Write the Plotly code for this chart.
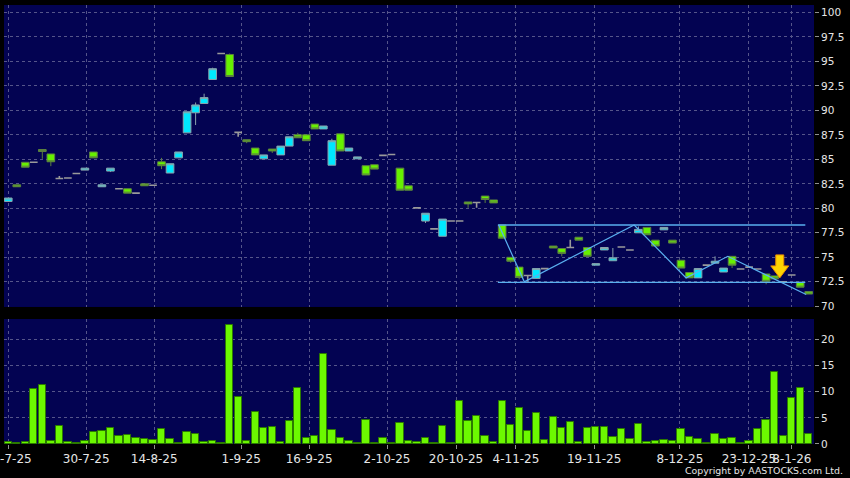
import plotly.graph_objects as go

# ---------------- data ----------------
date_labels = ["16-7-25", "30-7-25", "14-8-25", "1-9-25", "16-9-25", "2-10-25",
               "20-10-25", "4-11-25", "19-11-25", "8-12-25", "23-12-25", "8-1-26"]
date_tick_pos = [0, 9.15, 17.14, 27.35, 35.33, 44.48, 52.58, 59.62, 68.8, 78.87, 86.97, 92.02]

open_ = [80.70, 82.40, 84.70, 84.70, 86.00, 85.55, 83.05, 83.10, 83.55, 83.90,
         85.75, 82.20, 83.80, 82.00, 82.00, 81.55, 82.50, 82.35, 84.75, 83.60,
         85.15, 87.70, 89.75, 90.70, 93.15, 95.80, 95.70, 87.75, 87.00, 86.15,
         85.05, 86.05, 85.45, 86.35, 87.50, 87.50, 88.60, 88.10, 84.40, 87.60,
         85.85, 85.05, 84.35, 84.45, 85.40, 85.50, 84.10, 82.30, 80.05, 78.70,
         77.90, 77.15, 78.70, 78.70, 80.65, 80.60, 81.25, 80.85, 78.30, 75.00,
         74.00, 73.15, 72.85, 73.85, 76.15, 75.90, 76.00, 77.05, 76.00, 74.20,
         75.75, 74.65, 76.05, 75.75, 77.50, 78.05, 76.75, 77.80, 76.75, 74.70,
         73.45, 72.90, 74.20, 74.40, 73.50, 75.10, 73.80, 74.00, 73.80, 73.30,
         73.10, 72.50, 73.20, 72.45, 71.50]
high = [81.05, 82.40, 84.70, 84.70, 86.00, 85.55, 83.30, 83.10, 83.55, 84.10,
        85.75, 82.40, 84.10, 82.00, 82.00, 81.55, 82.50, 82.35, 85.15, 84.55,
        85.75, 89.85, 90.80, 91.70, 94.35, 95.80, 95.80, 87.75, 87.00, 86.15,
        85.45, 86.05, 86.35, 87.30, 87.70, 87.50, 88.60, 88.40, 87.10, 87.60,
        86.15, 85.25, 84.35, 84.45, 85.40, 85.50, 84.10, 82.30, 80.05, 79.50,
        77.90, 78.90, 78.70, 78.70, 80.65, 80.60, 81.25, 80.85, 78.30, 75.00,
        74.00, 73.15, 73.85, 73.85, 76.15, 75.90, 76.80, 77.05, 76.00, 74.35,
        76.00, 75.95, 76.05, 75.75, 78.15, 78.05, 76.75, 78.05, 76.75, 74.70,
        73.45, 73.85, 74.20, 75.10, 73.90, 75.10, 73.80, 74.00, 73.80, 73.30,
        73.10, 72.50, 73.20, 72.45, 71.50]
low = [80.70, 82.20, 84.20, 84.70, 85.05, 84.30, 83.05, 83.10, 83.55, 83.90,
       85.15, 82.20, 83.70, 82.00, 81.55, 81.55, 82.30, 82.35, 84.00, 83.60,
       85.15, 87.70, 88.50, 90.70, 93.15, 95.80, 93.45, 87.30, 86.65, 85.45,
       85.05, 85.65, 85.45, 86.35, 87.20, 86.90, 88.10, 88.10, 84.40, 85.85,
       85.85, 85.05, 83.40, 84.00, 85.40, 85.50, 81.85, 81.85, 80.05, 78.50,
       77.90, 77.15, 78.70, 78.70, 80.05, 80.05, 80.55, 80.55, 76.95, 74.45,
       72.75, 72.50, 72.85, 73.85, 75.95, 75.10, 76.00, 76.75, 75.10, 74.20,
       75.75, 74.65, 76.05, 75.75, 77.50, 77.30, 76.15, 77.80, 76.45, 73.90,
       72.90, 72.90, 74.20, 74.40, 73.50, 73.90, 73.80, 74.00, 73.80, 72.25,
       72.80, 72.50, 73.20, 71.95, 71.25]
close = [81.05, 82.20, 84.20, 84.70, 85.80, 84.75, 83.05, 83.10, 83.55, 84.10,
         85.15, 82.40, 84.10, 82.00, 81.55, 81.55, 82.30, 82.35, 84.35, 84.55,
         85.75, 89.85, 90.55, 91.30, 94.25, 95.80, 93.45, 87.75, 86.80, 85.45,
         85.45, 85.85, 86.35, 87.30, 87.20, 86.90, 88.10, 88.40, 86.90, 85.85,
         86.15, 85.25, 83.40, 84.00, 85.40, 85.50, 81.85, 81.85, 80.05, 79.50,
         77.90, 78.90, 78.70, 78.70, 80.45, 80.60, 80.90, 80.55, 76.95, 74.60,
         72.95, 73.15, 73.85, 73.85, 75.95, 75.40, 76.00, 76.75, 75.10, 74.35,
         76.00, 74.95, 76.05, 75.75, 77.85, 77.30, 76.15, 78.05, 76.45, 73.90,
         72.90, 73.85, 74.20, 74.60, 73.90, 74.20, 73.80, 74.00, 73.80, 72.55,
         72.80, 72.50, 73.20, 71.95, 71.25]
volume = [0.4, 0.1, 0.4, 10.6, 11.2, 0.6, 3.4, 0.4, 0.1, 0.6,
          2.2, 2.4, 3.1, 1.6, 1.8, 1.2, 1.0, 0.8, 2.8, 1.0,
          0.1, 2.2, 2.0, 0.4, 0.6, 0.1, 22.8, 9.0, 0.6, 6.2,
          3.1, 3.3, 0.3, 4.4, 10.8, 1.2, 1.6, 17.3, 2.6, 1.2,
          0.6, 0.1, 4.6, 0.1, 1.2, 0.1, 4.0, 0.6, 0.4, 1.2,
          0.1, 3.4, 0.1, 8.3, 4.4, 5.4, 1.6, 0.4, 8.3, 3.6,
          6.8, 2.4, 6.0, 0.8, 5.2, 3.0, 4.2, 0.4, 3.0, 3.2,
          3.3, 1.4, 2.9, 1.0, 3.8, 0.3, 0.6, 0.8, 0.6, 2.9,
          1.4, 1.0, 0.1, 2.0, 1.0, 1.2, 0.1, 0.6, 2.9, 4.6,
          13.7, 1.6, 8.7, 10.8, 2.0]

# user-drawn channel and zigzag (bar index, price)
channel_idx = [57.5, 93.6]
resistance = 78.3
support = 72.45
zigzag_idx = [57.6, 60.6, 73.5, 79.6, 84.5, 93.7]
zigzag_px = [78.3, 72.5, 78.3, 72.9, 75.1, 71.2]
signal_arrow = (90.6, 72.9)  # (bar index, price at tip)

# ---------------- figure ----------------
idx = list(range(len(close)))
up = [i for i in idx if close[i] > open_[i]]
dn = [i for i in idx if close[i] < open_[i]]
dj = [i for i in idx if close[i] == open_[i]]


def sub(arr, sel):
    return [arr[i] for i in sel]


fig = go.Figure()

CYAN = "#00e8ff"
GREEN = "#66f000"


def candle(sel, fill, line, width):
    return go.Candlestick(
        x=sel, open=sub(open_, sel), high=sub(high, sel), low=sub(low, sel), close=sub(close, sel),
        increasing=dict(fillcolor=fill, line=dict(color=line, width=width)),
        decreasing=dict(fillcolor=fill, line=dict(color=line, width=width)),
        whiskerwidth=0, xaxis="x", yaxis="y", showlegend=False, hoverinfo="skip")


fig.add_trace(candle(up, CYAN, "#8aa4ac", 1))
fig.add_trace(candle(dn, GREEN, "#5c8040", 1))
fig.add_trace(candle(dj, "#9a9a9a", "#9a9a9a", 1.6))

LINE_BLUE = "#5ab0f0"
fig.add_trace(go.Scatter(x=channel_idx, y=[resistance, resistance], mode="lines",
                         line=dict(color=LINE_BLUE, width=1.3), xaxis="x", yaxis="y",
                         showlegend=False, hoverinfo="skip"))
fig.add_trace(go.Scatter(x=channel_idx, y=[support, support], mode="lines",
                         line=dict(color=LINE_BLUE, width=1.3), xaxis="x", yaxis="y",
                         showlegend=False, hoverinfo="skip"))
fig.add_trace(go.Scatter(x=zigzag_idx, y=zigzag_px, mode="lines",
                         line=dict(color=LINE_BLUE, width=1.2), xaxis="x", yaxis="y",
                         showlegend=False, hoverinfo="skip"))

fig.add_trace(go.Bar(x=idx, y=volume, width=0.86, xaxis="x2", yaxis="y2",
                     marker=dict(color="#6cf800", line=dict(color="#2c7a00", width=1)),
                     showlegend=False, hoverinfo="skip"))

fig.add_shape(type="path", xref="x", yref="y", xsizemode="pixel", ysizemode="pixel",
              xanchor=signal_arrow[0], yanchor=signal_arrow[1],
              path="M0,0 L-9,12 L-4,12 L-4,23 L4,23 L4,12 L9,12 Z",
              fillcolor="#ffd400", line=dict(color="#e88a00", width=1), layer="above")

GRID = "#55558a"
FONT = "DejaVu Sans"
xr = [-0.5, 94.62]
common_x = dict(range=xr, tickmode="array", tickvals=date_tick_pos, ticktext=date_labels,
                showgrid=True, gridcolor=GRID, griddash="3px,3px", gridwidth=1, zeroline=False,
                showline=False, automargin=False, fixedrange=True)

fig.update_layout(
    width=850, height=478,
    margin=dict(l=4, r=36, t=5, b=34),
    paper_bgcolor="#000000", plot_bgcolor="#030352",
    font=dict(family=FONT, color="#e6e6e6"),
    boxgap=0.1, boxgroupgap=0.0,
    bargap=0,
    xaxis=dict(**common_x, anchor="y", showticklabels=False, ticks="",
               rangeslider=dict(visible=False)),
    xaxis2=dict(**common_x, anchor="y2", ticks="outside", ticklen=4,
                tickcolor="#909090", tickangle=0, ticklabeloverflow="allow",
                tickfont=dict(size=12, color="#e6e6e6")),
    yaxis=dict(domain=[0.3121, 1], range=[69.93, 100.75], side="right", dtick=2.5, tick0=70,
               showgrid=True, gridcolor=GRID, griddash="3px,3px", zeroline=False,
               ticks="outside", ticklen=4, tickcolor="#909090",
               tickfont=dict(size=10.5, color="#e6e6e6"), automargin=False, fixedrange=True),
    yaxis2=dict(domain=[0, 0.2847], range=[0, 23.9], side="right", dtick=5, tick0=0,
                showgrid=True, gridcolor=GRID, griddash="3px,3px", zeroline=False,
                ticks="outside", ticklen=4, tickcolor="#909090",
                tickfont=dict(size=10.5, color="#e6e6e6"), automargin=False, fixedrange=True),
)

fig.add_annotation(text="Copyright by AASTOCKS.com Ltd.", xref="paper", yref="paper",
                   x=1.0383, y=-0.0615, xanchor="right", yanchor="middle", showarrow=False,
                   font=dict(size=9.4, color="#e6e6e6", family=FONT))

fig.write_html("out.html", config={"displayModeBar": False},
               post_script="document.body.style.margin='0';document.body.style.overflow='hidden';")
